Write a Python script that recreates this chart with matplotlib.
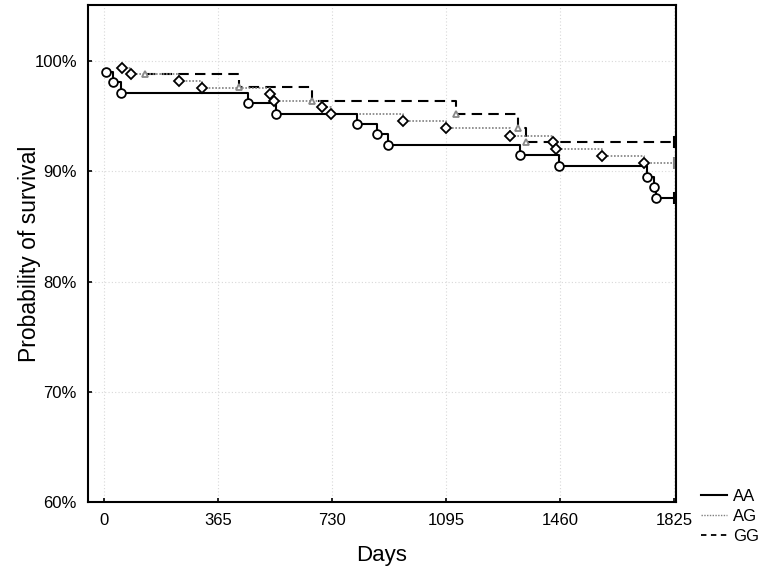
import matplotlib
matplotlib.use("Agg")
import matplotlib.pyplot as plt
from matplotlib.lines import Line2D
from matplotlib.ticker import FuncFormatter

plt.rcParams['font.family'] = ['Liberation Sans', 'DejaVu Sans']

# Data: event times (days) and survival (%) after each event
aa_days = [8, 28, 54, 460, 549, 810, 875, 909, 1332, 1455, 1736, 1761, 1765]
aa_surv = [99.05, 98.1, 97.15, 96.2, 95.25, 94.3, 93.35, 92.4, 91.45, 90.45, 89.5, 88.55, 87.6]

ag_days = [58, 85, 241, 315, 530, 544, 696, 725, 957, 1093, 1298, 1438, 1447, 1594, 1729]
ag_surv = [99.4, 98.8, 98.2, 97.6, 97.0, 96.4, 95.8, 95.2, 94.55, 93.9, 93.25, 92.65, 92.0, 91.4, 90.75]

gg_days = [131, 432, 667, 1127, 1324, 1351]
gg_surv = [98.85, 97.65, 96.4, 95.2, 93.95, 92.65]

end_day = 1825
x_ticks = [0, 365, 730, 1095, 1460, 1825]
y_ticks = [60, 70, 80, 90, 100]
labels = ['AA', 'AG', 'GG']

W, H = 765, 571
fig = plt.figure(figsize=(W / 100, H / 100), dpi=100)
ax = fig.add_axes([88 / W, 1 - 502 / H, (676 - 88) / W, (502 - 5) / H])

def km(ax, days, surv, color, ls, lw, marker, ms, mec):
    xs = list(days) + [end_day]
    ys = list(surv) + [surv[-1]]
    ax.step(xs, ys, where='post', color=color, linestyle=ls, linewidth=lw, zorder=3)
    ax.plot(days, surv, linestyle='none', marker=marker, markersize=ms,
            markerfacecolor='white', markeredgecolor=mec, markeredgewidth=1.3, zorder=4)
    ax.plot([end_day], [surv[-1]], linestyle='none', marker='|', markersize=8,
            color=color, markeredgewidth=1.5, zorder=4)

km(ax, gg_days, gg_surv, 'black', (0, (5, 3)), 1.5, '^', 5, '#888888')
km(ax, ag_days, ag_surv, '#808080', (0, (1, 1)), 1.2, 'D', 5, 'black')
km(ax, aa_days, aa_surv, 'black', '-', 1.5, 'o', 6.3, 'black')

ax.set_xlim(-51, 1830)
ax.set_ylim(60, 105.1)
ax.set_xticks(x_ticks)
ax.set_yticks(y_ticks)
ax.yaxis.set_major_formatter(FuncFormatter(lambda v, p: f"{int(v)}%"))
ax.tick_params(direction='in', length=3, width=1.2, labelsize=12, pad=8)
ax.grid(True, color='#d8d8d8', linestyle=(0, (1, 2)), linewidth=0.8)
ax.set_axisbelow(True)
for s in ax.spines.values():
    s.set_linewidth(1.5)

ax.set_xlabel('Days', fontsize=16, labelpad=12)
fig.text(30 / W, 1 - 254 / H, 'Probability of survival', fontsize=16.5,
         rotation=90, ha='center', va='center')

handles = [Line2D([], [], color='black', linestyle='-', linewidth=1.5),
           Line2D([], [], color='#808080', linestyle=(0, (1, 1)), linewidth=1.0),
           Line2D([], [], color='black', linestyle=(0, (3, 2.5)), linewidth=1.3)]
fig.legend(handles, labels, loc='upper left', bbox_to_anchor=(0.907, 0.155),
           frameon=False, fontsize=12, handlelength=1.6, handletextpad=0.35,
           labelspacing=0.3, borderaxespad=0)

fig.savefig('out.png', dpi=100)
